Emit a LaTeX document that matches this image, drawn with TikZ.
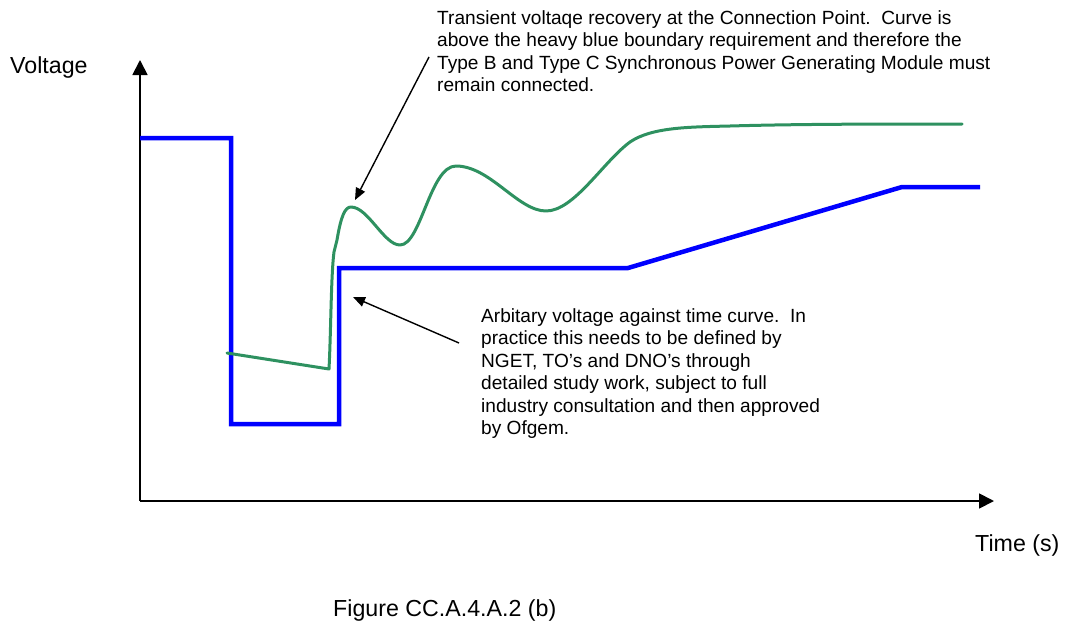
\documentclass[tikz,border=0pt]{standalone}
\usepackage{fontspec}
\setmainfont{Liberation Sans}
\usetikzlibrary{arrows.meta}
\definecolor{limitblue}{RGB}{0,0,255}
\definecolor{recgreen}{RGB}{46,145,96}
\begin{document}
\begin{tikzpicture}[x=1pt,y=-1pt,
  axis/.style={line width=1.8pt,-{Triangle[length=15pt,width=15pt]}},
  pointer/.style={line width=1.4pt,-{Triangle[length=12pt,width=10pt]}},
  boundary/.style={line width=4.5pt,limitblue,line join=miter},
  response/.style={line width=3pt,recgreen,line join=round,line cap=round},
  label/.style={inner sep=0pt,font=\fontsize{23.2}{27}\selectfont},
  note/.style={inner sep=0pt,align=left,font=\fontsize{19.1}{22.5}\selectfont}]
\useasboundingbox (0,0) rectangle (1067,626);

% axes
\coordinate (o) at (140,501);
\coordinate (ytip) at (140,60);
\coordinate (xtip) at (994,501);
\draw[axis] (o) -- (ytip);
\draw[axis] (o) -- (xtip);
\node[label,anchor=base west] (vlab) at (10,74) {Voltage};
\node[label,anchor=base west] (tlab) at (975,551) {Time (s)};
\node[label,anchor=base west] (cap) at (333,616) {Figure CC.A.4.A.2 (b)};

% voltage-against-time boundary
\draw[boundary] (140,138) -- (231,138) -- (231,424) -- (339,424) -- (339,268)
  -- (628,268) -- (902,187) -- (980,187);

% transient voltage recovery
\draw[response] (227,353) -- (329,369)
  .. controls (331,330) and (331,275) .. (334,252)
  -- (337,240)
  .. controls (341,216) and (345,207) .. (351,207)
  .. controls (368,207) and (384,245) .. (400,245)
  .. controls (421,245) and (430,166) .. (456,166)
  .. controls (490,166) and (518,211) .. (546,211)
  .. controls (574,211) and (603,162) .. (630,142)
  .. controls (652,127) and (690,127) .. (730,126)
  .. controls (800,124) and (880,124) .. (962,124);

% annotations
\node[note,anchor=north west] (ann1) at (437,10)
  {Transient voltaqe recovery at the Connection Point.\ \ Curve is\\
   above the heavy blue boundary requirement and therefore the\\
   Type B and Type C Synchronous Power Generating Module must\\
   remain connected.};
\node[note,anchor=north west] (ann2) at (481,308)
  {Arbitary voltage against time curve.\ \ In\\
   practice this needs to be defined by\\
   NGET, TO’s and DNO’s through\\
   detailed study work, subject to full\\
   industry consultation and then approved\\
   by Ofgem.};

\coordinate (p1s) at (429,57);
\coordinate (p1e) at (355,200);
\coordinate (p2s) at (459,343);
\coordinate (p2e) at (353,297);
\draw[pointer] (p1s) -- (p1e);
\draw[pointer] (p2s) -- (p2e);
\end{tikzpicture}
\end{document}
